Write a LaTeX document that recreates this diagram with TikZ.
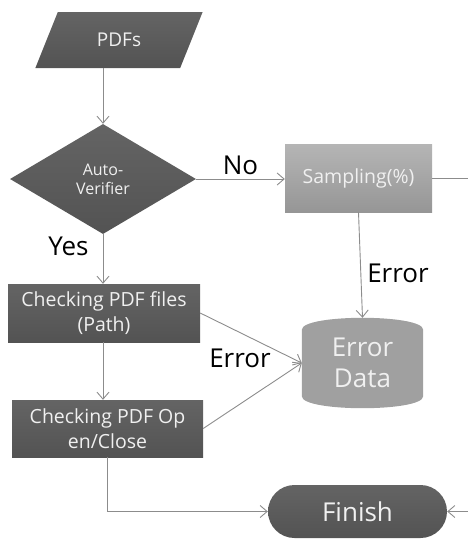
\documentclass[tikz,border=0pt]{standalone}
\usepackage{fontspec}
\setmainfont{Open Sans}
\usetikzlibrary{arrows.meta,shapes.geometric,shapes.misc}
\definecolor{boxtop}{HTML}{646464}
\definecolor{boxbot}{HTML}{535353}
\definecolor{liteop}{HTML}{B5B5B5}
\definecolor{litebot}{HTML}{969696}
\definecolor{errgray}{HTML}{A0A0A0}
\definecolor{linegray}{HTML}{8C8C8C}
\definecolor{boxtext}{HTML}{F0F0F0}
\pgfdeclarelayer{bg}
\pgfsetlayers{bg,main}

\begin{document}
\begin{tikzpicture}[x=1pt,y=-1pt,
  every node/.style={inner sep=0pt, align=center},
  darkbox/.style={top color=boxtop, bottom color=boxbot, text=boxtext, font=\fontsize{19.5}{25}\selectfont},
  litebox/.style={top color=liteop, bottom color=litebot, text=boxtext, font=\fontsize{19.5}{25}\selectfont},
  bigtext/.style={font=\fontsize{26}{31}\selectfont},
  flow/.style={draw=linegray, line width=0.9pt, -{Straight Barb[length=7pt,width=12pt]}}]
\clip (0,0) rectangle (468,542);

\node[darkbox, trapezium, trapezium left angle=59.5, trapezium right angle=120.5, trapezium stretches=true,
  minimum width=168, minimum height=56, font=\fontsize{19}{24}\selectfont] (pdfs) at (119,40) {PDFs};
\node[darkbox, diamond, minimum width=186, minimum height=110, font=\fontsize{16}{19}\selectfont] (verif) at (103,179) {Auto-\\Verifier};
\node[litebox, rectangle, minimum width=147, minimum height=68] (samp) at (358.5,178) {Sampling(\%)};
\node[darkbox, rectangle, minimum width=192, minimum height=58] (chkpath) at (104,313) {Checking PDF files\\(Path)};
\node[darkbox, rectangle, minimum width=191, minimum height=57] (chkopen) at (107.5,428.5) {Checking PDF Op\\en/Close};
\node[rectangle, text=boxtext, minimum width=121, minimum height=90, bigtext] (errdata) at (362.5,363) {Error\\Data};
\begin{pgfonlayer}{bg}
\fill[errgray] ([yshift=-12pt]errdata.north west)
  .. controls ([yshift=4pt]errdata.north west) and ([yshift=4pt]errdata.north east) .. ([yshift=-12pt]errdata.north east)
  -- ([yshift=12pt]errdata.south east)
  .. controls ([yshift=-4pt]errdata.south east) and ([yshift=-4pt]errdata.south west) .. ([yshift=12pt]errdata.south west)
  -- cycle;
\end{pgfonlayer}
\node[darkbox, rounded rectangle, minimum width=179, minimum height=53, bigtext] (finish) at (357.5,511.5) {Finish};

\draw[flow] (pdfs.south -| verif.north) -- (verif.north);
\draw[flow] (verif.east) -- (verif.east -| samp.west) node[midway, above=4pt, bigtext] (lblno) {No};
\draw[flow] (verif.south) -- (chkpath.north -| verif.south) node[pos=0.25, left=14pt, bigtext] (lblyes) {Yes};
\draw[flow] (chkpath.south -| verif.south) -- (chkopen.north -| verif.south);
\draw[flow] (samp.south) -- (errdata.north) node[pos=0.58, right=6pt, bigtext] (lblerr) {Error};
\draw[flow] (chkpath.east) -- (errdata.west);
\draw[flow] (chkopen.east) -- (errdata.west);
\node[bigtext] (lblerr2) at (240,358) {Error};
\draw[flow] (chkopen.south) |- (finish.west);
\draw[flow] (samp.east) -- ++(60,0) |- (finish.east);
\end{tikzpicture}
\end{document}
